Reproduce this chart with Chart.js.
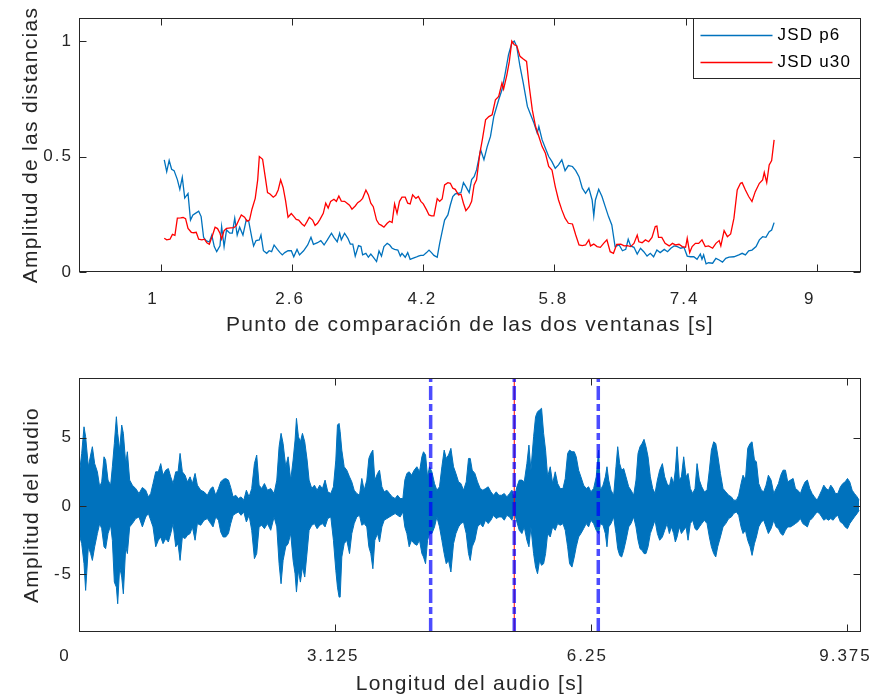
<!DOCTYPE html>
<html><head><meta charset="utf-8">
<script src="https://cdn.jsdelivr.net/npm/chart.js@4.4.1/dist/chart.umd.min.js"></script>
<style>
html,body{margin:0;padding:0;background:#fff;}
#wrap{position:relative;width:875px;height:700px;background:#fff;}
canvas{position:absolute;left:0;}
#c1{top:0;}
#c2{top:350px;}
</style></head><body>
<div id="wrap"><canvas id="c1" width="875" height="350"></canvas><canvas id="c2" width="875" height="350"></canvas></div>
<script>
// ---------- Top chart data ----------
const seriesNames = ['JSD p6', 'JSD u30'];
const blueT = [1.04,1.07,1.10,1.13,1.16,1.20,1.23,1.26,1.29,1.33,1.36,1.39,1.42,1.46,1.49,1.52,1.55,1.59,1.62,1.65,1.68,1.72,1.74,1.77,1.80,1.84,1.87,1.90,1.93,1.96,2.00,2.04,2.07,2.11,2.13,2.16,2.20,2.22,2.25,2.29,2.32,2.35,2.38,2.42,2.45,2.48,2.51,2.55,2.59,2.62,2.66,2.69,2.74,2.79,2.83,2.86,2.91,2.95,2.99,3.03,3.08,3.11,3.15,3.18,3.20,3.24,3.28,3.31,3.34,3.37,3.41,3.44,3.46,3.50,3.53,3.56,3.59,3.63,3.66,3.69,3.72,3.76,3.79,3.82,3.85,3.89,3.92,3.94,3.98,4.01,4.04,4.07,4.11,4.14,4.17,4.20,4.24,4.27,4.30,4.33,4.37,4.40,4.43,4.46,4.50,4.53,4.56,4.59,4.63,4.66,4.69,4.72,4.76,4.79,4.82,4.85,
4.90,4.94,4.98,5.02,5.06,5.12,5.16,5.20,5.24,5.28,5.31,5.34,5.38,5.42,5.47,5.51,5.55,5.59,5.61,5.65,5.69,5.73,5.77,5.81,5.85,5.89,5.93,5.97,6.02,6.06,6.10,6.14,6.18,6.22,6.26,6.28,6.30,6.34,6.38,6.42,6.46,6.50,6.54,6.59,6.63,6.67,6.70,6.73,6.77,6.81,6.85,6.89,6.93,6.97,7.01,7.05,7.09,7.14,7.18,7.22,7.26,7.30,7.34,7.38,7.42,7.46,7.50,7.54,7.58,7.60,7.62,7.65,7.68,7.73,7.77,7.81,7.85,7.89,7.93,7.99,8.05,8.09,8.13,8.17,8.21,8.26,8.30,8.34,8.38,8.42,8.45,8.48];
const blueV = [.486,.435,.483,.445,.439,.40,.358,.41,.32,.34,.225,.247,.254,.263,.24,.15,.136,.13,.16,.11,.088,.113,.197,.11,.182,.168,.168,.233,.16,.194,.16,.225,.22,.146,.113,.136,.139,.16,.092,.081,.092,.088,.117,.098,.085,.074,.084,.092,.092,.066,.098,.074,.092,.117,.15,.12,.127,.136,.117,.139,.168,.15,.131,.168,.139,.168,.146,.121,.121,.069,.114,.11,.074,.081,.064,.078,.064,.045,.091,.069,.11,.124,.117,.103,.098,.095,.069,.081,.064,.084,.055,.059,.064,.069,.072,.072,.084,.095,.084,.072,.064,.124,.175,.225,.247,.29,.327,.338,.341,.344,.387,.37,.344,.40,.413,.442,
.529,.486,.543,.587,.673,.746,.789,.861,.941,.991,1.0,.977,.890,.818,.717,.681,.645,.601,.630,.572,.536,.500,.478,.449,.464,.486,.439,.461,.457,.439,.413,.363,.341,.363,.312,.243,.312,.358,.327,.283,.240,.204,.110,.117,.092,.098,.142,.113,.107,.078,.103,.088,.069,.081,.066,.095,.084,.098,.088,.103,.113,.110,.103,.107,.069,.066,.066,.055,.078,.055,.074,.035,.040,.038,.059,.052,.043,.059,.064,.066,.074,.081,.074,.092,.095,.110,.139,.153,.150,.175,.182,.214];
const redT = [1.04,1.07,1.11,1.14,1.17,1.20,1.24,1.27,1.30,1.33,1.37,1.40,1.43,1.46,1.50,1.53,1.56,1.59,1.63,1.66,1.69,1.72,1.74,1.77,1.80,1.85,1.89,1.92,1.95,1.98,2.02,2.05,2.08,2.11,2.15,2.18,2.20,2.24,2.27,2.30,2.33,2.37,2.40,2.43,2.46,2.49,2.52,2.55,2.59,2.62,2.65,2.68,2.72,2.75,2.78,2.81,2.85,2.88,2.91,2.94,2.98,3.01,3.04,3.07,3.11,3.14,3.17,3.20,3.24,3.27,3.30,3.33,3.37,3.40,3.43,3.46,3.50,3.53,3.56,3.59,3.63,3.66,3.69,3.72,3.76,3.79,3.82,3.85,3.88,3.91,3.94,3.98,4.01,4.04,4.07,4.11,4.14,4.17,4.20,4.24,4.27,4.30,4.33,4.37,4.40,4.43,4.46,4.50,4.53,4.56,4.59,4.63,4.66,4.69,4.72,4.76,4.79,4.82,4.85,4.89,
4.92,4.96,5.00,5.04,5.08,5.12,5.16,5.18,5.22,5.25,5.28,5.31,5.34,5.38,5.42,5.46,5.49,5.53,5.57,5.61,5.65,5.69,5.73,5.77,5.81,5.85,5.89,5.93,5.97,6.02,6.06,6.10,6.14,6.18,6.22,6.24,6.28,6.32,6.36,6.40,6.44,6.48,6.52,6.56,6.61,6.65,6.69,6.73,6.77,6.81,6.83,6.87,6.91,6.95,6.99,7.03,7.05,7.07,7.11,7.15,7.20,7.24,7.28,7.32,7.36,7.40,7.42,7.45,7.48,7.52,7.56,7.60,7.64,7.68,7.73,7.77,7.81,7.83,7.87,7.91,7.95,7.99,8.03,8.07,8.09,8.13,8.17,8.21,8.25,8.30,8.34,8.36,8.39,8.42,8.45,8.48];
const redV = [.146,.139,.142,.163,.159,.233,.234,.236,.231,.189,.172,.17,.172,.142,.139,.142,.127,.12,.16,.194,.188,.168,.142,.179,.189,.191,.192,.202,.225,.247,.237,.22,.225,.272,.319,.399,.50,.488,.416,.344,.338,.324,.332,.355,.399,.366,.309,.237,.253,.241,.228,.225,.208,.199,.217,.237,.225,.202,.211,.228,.254,.298,.277,.306,.315,.306,.329,.307,.306,.298,.289,.272,.286,.30,.307,.319,.355,.334,.298,.283,.225,.208,.202,.194,.211,.22,.214,.295,.254,.306,.324,.324,.298,.295,.334,.319,.327,.306,.295,.269,.247,.243,.243,.318,.306,.316,.377,.387,.384,.363,.358,.334,.337,.298,.266,.283,.306,.377,.399,.514,
.572,.659,.673,.681,.746,.760,.818,.792,.854,.912,1.0,.984,.980,.934,.922,.912,.811,.702,.630,.587,.543,.514,.457,.442,.370,.312,.269,.233,.211,.208,.160,.117,.114,.117,.139,.113,.121,.110,.107,.124,.139,.088,.081,.120,.121,.113,.114,.110,.124,.160,.131,.127,.139,.131,.150,.197,.199,.150,.150,.124,.113,.124,.117,.120,.110,.107,.146,.084,.110,.124,.124,.139,.110,.113,.103,.124,.136,.113,.179,.153,.165,.233,.355,.384,.387,.355,.327,.305,.348,.384,.399,.431,.387,.464,.483,.572];
const topXRange = [0, 9.54];
const topYRange = [0, 1.1];
const topXTicks = [1, 2.6, 4.2, 5.8, 7.4, 9];
const topYTicks = [0, 0.5, 1];

// ---------- Bottom chart data ----------
const audioT = [0.000,0.033,0.061,0.081,0.114,0.142,0.163,0.191,0.224,0.252,0.277,0.305,0.325,0.354,0.386,0.407,0.431,0.456,0.472,0.496,0.521,0.541,0.570,0.590,0.618,0.651,0.692,0.732,0.773,0.814,0.846,0.875,0.903,0.936,0.968,0.997,1.025,1.058,1.090,1.119,1.147,1.180,1.208,1.233,1.261,1.294,1.322,1.355,1.383,1.416,1.444,1.485,1.526,1.566,1.607,1.635,1.668,1.701,1.729,1.758,1.790,1.823,1.851,1.880,1.912,1.945,1.977,2.010,2.042,2.075,2.107,2.140,2.168,2.197,2.229,2.262,2.299,2.339,2.380,2.413,2.441,2.465,2.490,2.522,2.551,2.583,2.612,2.636,2.653,2.677,2.701,2.726,2.754,2.783,2.807,2.840,2.872,2.905,2.937,2.970,3.002,3.035,3.072,3.104,3.133,3.153,3.173,
3.186,3.206,3.235,3.267,3.300,3.328,3.357,3.389,3.422,3.450,3.479,3.511,3.536,3.560,3.585,3.609,3.642,3.666,3.695,3.723,3.756,3.788,3.821,3.857,3.886,3.918,3.951,3.975,4.000,4.028,4.057,4.089,4.122,4.154,4.183,4.203,4.228,4.252,4.276,4.305,4.337,4.366,4.398,4.427,4.455,4.480,4.508,4.537,4.569,4.598,4.630,4.659,4.691,4.724,4.752,4.773,4.797,4.830,4.862,4.895,4.927,4.960,4.992,5.025,5.057,5.090,5.123,5.155,5.188,5.220,5.253,5.281,5.310,5.342,5.371,5.403,5.432,5.464,5.489,5.513,5.546,5.570,5.594,5.619,5.643,5.668,5.692,5.717,5.749,5.778,5.810,5.839,5.871,5.904,5.932,5.961,5.985,6.014,6.042,6.066,6.095,6.123,6.156,6.188,6.217,6.245,6.278,6.310,6.339,
6.360,6.393,6.421,6.441,6.462,6.490,6.523,6.551,6.572,6.596,6.620,6.645,6.673,6.706,6.734,6.767,6.795,6.820,6.844,6.869,6.893,6.917,6.942,6.970,6.999,7.027,7.056,7.084,7.117,7.145,7.174,7.202,7.227,7.255,7.275,7.296,7.324,7.349,7.377,7.406,7.430,7.458,7.487,7.515,7.540,7.568,7.597,7.629,7.662,7.690,7.715,7.743,7.768,7.792,7.825,7.857,7.890,7.926,7.959,7.987,8.020,8.048,8.077,8.101,8.130,8.158,8.187,8.211,8.240,8.264,8.292,8.325,8.353,8.382,8.410,8.443,8.476,8.504,8.533,8.561,8.589,8.618,8.646,8.679,8.712,8.740,8.768,8.801,8.830,8.858,8.886,8.915,8.943,8.972,9.004,9.033,9.061,9.086,9.114,9.143,9.171,9.200,9.228,9.257,9.289,9.318,9.346,9.375,9.403,9.432,9.460,9.493,9.517];
const audioUp = [2.13,3.85,5.8,5.07,2.87,3.73,4.34,3.1,2.5,1.4,1.76,3.6,3.36,1.89,1.52,2.87,4.58,6.54,5.32,4.09,5.93,5.32,3.1,3.97,1.89,1.52,1.27,0.91,1.35,1.15,0.66,0.91,1.64,2.5,2.5,3.1,2.25,2.62,2.74,2.13,1.64,2.5,2.5,3.85,2.5,2.25,1.76,2.13,1.64,2.38,1.52,1.15,1.03,0.78,1.27,1.4,0.78,1.27,1.76,1.94,2.01,1.89,1.35,0.66,0.78,0.54,0.66,0.42,1.15,0.66,1.27,3.1,3.73,1.52,1.27,1.64,1.15,1.27,0.91,1.89,4.34,5.32,4.58,2.87,3.6,1.89,3.36,4.83,6.42,5.07,4.7,5.32,4.7,3.36,1.89,1.27,1.52,1.15,1.52,1.27,1.89,1.03,0.91,1.4,3.36,5.93,6.05,
5.44,4.09,2.87,2.62,2.13,1.76,1.15,0.91,0.78,2.01,1.15,1.89,3.48,3.85,4.09,1.89,2.38,2.62,1.4,1.03,1.15,0.91,0.66,0.54,0.78,0.54,0.54,1.89,2.38,2.5,2.25,2.62,2.87,2.5,3.6,3.97,3.73,2.13,2.87,2.5,1.64,1.15,1.4,2.87,4.09,3.48,3.73,4.22,2.87,2.38,1.76,1.64,1.15,1.76,3.48,3.48,2.62,2.38,1.76,1.27,1.15,1.27,1.4,1.03,0.78,1.03,0.78,0.78,0.91,0.66,0.91,1.15,0.54,1.4,1.89,1.89,1.76,3.1,4.46,2.62,5.07,6.54,6.91,7.03,7.16,5.32,4.09,2.13,2.87,1.64,2.5,1.64,1.27,1.27,2.01,3.85,4.09,3.97,3.97,3.6,2.62,2.13,1.52,1.27,1.4,1.03,1.27,2.13,4.09,
1.15,1.52,2.13,2.87,1.89,1.15,0.78,2.87,4.34,3.1,2.62,2.74,2.13,1.4,1.15,0.78,1.89,3.85,4.34,4.58,4.88,4.34,3.6,2.13,1.27,0.91,1.89,2.62,3.1,2.13,1.64,1.4,2.13,1.64,2.62,4.34,1.89,2.13,3.6,2.13,2.38,1.27,0.91,1.27,3.1,1.89,1.4,1.03,1.15,2.62,4.09,4.7,4.58,3.73,2.38,1.27,1.03,0.78,0.66,0.42,0.42,0.78,1.64,2.25,1.89,4.22,4.58,4.7,3.36,3.24,1.64,1.15,1.03,1.52,2.25,1.89,0.91,1.27,1.64,2.25,2.62,2.62,1.76,1.89,2.01,1.27,1.15,0.91,1.4,1.76,1.89,1.27,0.91,0.66,0.42,0.78,1.15,1.52,1.27,1.15,1.52,1.27,0.91,0.91,1.4,1.64,1.76,2.01,1.76,1.15,0.91,0.66,0.42];
const audioLo = [-2.03,-2.77,-4.24,-6.2,-3.0,-3.5,-4.0,-3.0,-2.03,-1.3,-1.67,-3.0,-3.14,-2.03,-1.42,-2.52,-5.59,-5.96,-7.18,-4.49,-5.22,-6.45,-3.0,-3.5,-1.54,-1.3,-0.93,-0.81,-1.54,-0.81,-0.56,-1.05,-1.54,-3.0,-2.52,-2.28,-2.77,-2.4,-2.65,-2.03,-1.3,-3.0,-2.77,-4.0,-2.28,-2.4,-2.16,-2.03,-1.54,-2.52,-1.3,-1.42,-1.05,-0.93,-1.3,-1.54,-0.81,-1.05,-1.91,-2.28,-2.28,-2.03,-1.3,-0.69,-0.56,-0.44,-0.69,-0.44,-1.18,-0.69,-1.79,-3.87,-3.5,-1.54,-1.42,-1.67,-1.3,-1.79,-0.81,-1.54,-4.24,-5.71,-4.0,-3.0,-2.77,-2.03,-4.0,-4.98,-6.32,-4.73,-5.59,-4.49,-5.22,-3.38,-1.79,-1.42,-1.3,-1.67,-1.42,-1.3,-1.54,-0.93,-0.81,-2.52,-4.73,-5.96,-6.69,
-6.69,-3.75,-2.77,-2.52,-3.5,-2.03,-1.3,-0.81,-0.69,-1.42,-1.3,-1.54,-3.0,-3.5,-4.61,-2.52,-2.03,-2.65,-1.54,-1.05,-0.93,-0.81,-0.69,-0.56,-0.69,-0.81,-0.44,-1.54,-2.03,-3.0,-2.52,-2.77,-2.89,-2.52,-3.5,-3.75,-4.24,-2.52,-2.03,-2.03,-1.54,-0.81,-1.54,-2.52,-3.5,-4.24,-4.0,-4.85,-2.77,-2.03,-1.54,-1.3,-1.18,-2.03,-3.5,-4.0,-3.0,-2.52,-1.54,-1.3,-1.54,-1.05,-1.3,-1.05,-0.69,-0.93,-0.81,-0.81,-1.05,-0.69,-0.81,-1.05,-0.44,-1.18,-1.79,-2.03,-1.54,-2.52,-3.0,-1.54,-3.5,-4.49,-4.98,-4.0,-4.36,-4.24,-3.5,-2.03,-2.28,-1.54,-1.79,-1.3,-1.42,-1.3,-1.79,-3.0,-4.24,-4.49,-3.75,-3.0,-2.28,-2.03,-1.67,-1.3,-1.54,-1.05,-1.3,-1.79,-2.03,
-1.3,-1.42,-2.03,-3.0,-1.54,-1.3,-0.81,-2.03,-3.14,-3.63,-3.75,-3.26,-2.52,-1.54,-1.3,-0.81,-1.54,-2.52,-3.14,-3.26,-3.5,-3.5,-3.0,-2.03,-1.54,-1.05,-2.03,-2.52,-2.28,-1.79,-1.3,-2.03,-1.54,-2.03,-2.65,-2.28,-1.54,-2.03,-1.79,-1.54,-2.52,-1.3,-1.05,-1.67,-1.79,-1.54,-1.3,-1.05,-1.3,-2.28,-3.0,-3.5,-3.75,-3.0,-2.28,-1.54,-1.3,-0.93,-0.81,-0.56,-0.44,-0.69,-1.54,-2.03,-1.79,-2.52,-3.0,-3.63,-2.77,-2.28,-1.54,-1.18,-1.05,-1.54,-2.03,-1.67,-1.05,-1.54,-1.67,-2.03,-2.16,-1.79,-1.54,-1.54,-1.42,-1.3,-1.18,-0.93,-1.3,-1.42,-1.54,-1.05,-0.93,-0.69,-0.44,-0.56,-0.81,-1.05,-0.93,-1.05,-0.93,-1.05,-0.81,-0.69,-1.18,-1.3,-1.54,-1.67,-1.3,-1.05,-0.81,-0.56,-0.32];
const markerT = [4.29, 5.31, 6.335];
const peakT = [5.31];
const botXRange = [0, 9.54];
const botYRange = [-9.25, 9.38];
const botXTicks = [0, 3.125, 6.25, 9.375];
const botYTicks = [-5, 0, 5];

// ---------- styling ----------
const FONT = "'Liberation Sans', Arial, Helvetica, sans-serif";
const AXC = '#262626';
const TICK_SP = 2, TITLE_SP = 1.3, LEG_SP = 1.2;
const topXLabelShift = [-8, -2, -1, -1, -1, -7];
const botXLabelShift = [-14, -2, -4, -2];

const boxPlugin = {
  id: 'mbox',
  afterDatasetsDraw(chart, args, opts) {
    const {ctx, chartArea: a, scales: {x, y}} = chart;
    ctx.save();
    ctx.strokeStyle = AXC; ctx.lineWidth = 1;
    const L = Math.round(a.left) + 0.5, R = Math.round(a.right) - 0.5;
    const T = Math.round(a.top) + 0.5, B = Math.round(a.bottom) - 0.5;
    ctx.strokeRect(L, T, R - L, B - T);
    const tl = opts.tickLen || 7;
    ctx.beginPath();
    x.ticks.forEach(t => {
      const px = Math.round(x.getPixelForValue(t.value)) + 0.5;
      ctx.moveTo(px, B); ctx.lineTo(px, B - tl);
      ctx.moveTo(px, T); ctx.lineTo(px, T + tl);
    });
    y.ticks.forEach(t => {
      const py = Math.round(y.getPixelForValue(t.value)) + 0.5;
      ctx.moveTo(L, py); ctx.lineTo(L + tl, py);
      ctx.moveTo(R, py); ctx.lineTo(R - tl, py);
    });
    ctx.stroke();
    ctx.restore();
  }
};

const legendPlugin = {
  id: 'mlegend',
  afterDatasetsDraw(chart) {
    const {ctx, chartArea: a} = chart;
    const x0 = Math.round(a.right) - 167.5, y0 = Math.round(a.top) + 0.5, w = 167, h = 60;
    ctx.save();
    ctx.fillStyle = '#fff'; ctx.fillRect(x0, y0, w, h);
    ctx.strokeStyle = AXC; ctx.lineWidth = 1; ctx.strokeRect(x0, y0, w, h);
    ctx.font = '17px ' + FONT; ctx.textBaseline = 'middle'; ctx.textAlign = 'left';
    ctx.letterSpacing = LEG_SP + 'px';
    chart.data.datasets.forEach((ds, i) => {
      const yy = y0 + 17 + i * 27;
      ctx.strokeStyle = ds.borderColor; ctx.lineWidth = 1.3;
      ctx.beginPath(); ctx.moveTo(x0 + 7, yy); ctx.lineTo(x0 + 79, yy); ctx.stroke();
      ctx.fillStyle = '#000';
      ctx.fillText(ds.label, x0 + 84, yy);
    });
    ctx.letterSpacing = '0px';
    ctx.restore();
  }
};

function fixedTicks(arr) { return s => { s.ticks = arr.map(v => ({value: v})); }; }
function spaced(s, shifts) {
  if (s._spaced) return;
  s._spaced = true;
  const dl = s.drawLabels, dt = s.drawTitle, cli = s._computeLabelItems;
  s.drawLabels = function (a) { this.ctx.letterSpacing = TICK_SP + 'px'; dl.call(this, a); this.ctx.letterSpacing = '0px'; };
  s.drawTitle = function (a) { this.ctx.letterSpacing = TITLE_SP + 'px'; dt.call(this, a); this.ctx.letterSpacing = '0px'; };
  if (shifts) {
    s._computeLabelItems = function (a) {
      const items = cli.call(this, a);
      items.forEach((it, i) => { if (shifts[i]) it.options.translation[0] += shifts[i]; });
      return items;
    };
  }
}
function fitX(h, shifts) { return s => { s.height = h; s.paddingLeft = 0; s.paddingRight = 0; spaced(s, shifts); }; }
function fitY(w) { return s => { s.width = w; s.paddingTop = 0; s.paddingBottom = 0; spaced(s, null); }; }
const tickFont = {family: FONT, size: 17};
const titleFont = {family: FONT, size: 21};

new Chart(document.getElementById('c1'), {
  type: 'line',
  data: {datasets: [
    {label: seriesNames[0], data: blueT.map((t, i) => ({x: t, y: blueV[i]})), borderColor: '#0072BD', borderWidth: 1.3, pointRadius: 0, fill: false, tension: 0, order: 2},
    {label: seriesNames[1], data: redT.map((t, i) => ({x: t, y: redV[i]})), borderColor: '#FF0000', borderWidth: 1.3, pointRadius: 0, fill: false, tension: 0, order: 1}
  ]},
  options: {
    responsive: false, animation: false, devicePixelRatio: 1,
    layout: {padding: {left: 0, right: 14, top: 18, bottom: 0}},
    plugins: {legend: {display: false}, tooltip: {enabled: false}, mbox: {tickLen: 7}},
    scales: {
      x: {type: 'linear', min: topXRange[0], max: topXRange[1], afterBuildTicks: fixedTicks(topXTicks),
        ticks: {callback: v => String(v), font: tickFont, color: AXC, padding: 17, maxRotation: 0, autoSkip: false},
        grid: {display: false, drawTicks: false}, border: {display: false},
        title: {display: true, text: 'Punto de comparación de las dos ventanas [s]', font: titleFont, color: AXC, padding: {top: 0, bottom: 12}},
        afterFit: fitX(78, topXLabelShift)},
      y: {type: 'linear', min: topYRange[0], max: topYRange[1], afterBuildTicks: fixedTicks(topYTicks),
        ticks: {callback: v => String(v), font: tickFont, color: AXC, padding: 6},
        grid: {display: false, drawTicks: false}, border: {display: false},
        title: {display: true, text: 'Amplitud de las distancias', font: titleFont, color: AXC, padding: {top: 19, bottom: 0}},
        afterFit: fitY(79)}
    }
  },
  plugins: [boxPlugin, legendPlugin]
});

const audioDatasets = [
  {label: 'audio+', data: audioT.map((t, i) => ({x: t, y: audioUp[i]})), borderColor: '#0072BD', borderWidth: 1, pointRadius: 0, fill: false, tension: 0, order: 3},
  {label: 'audio-', data: audioT.map((t, i) => ({x: t, y: audioLo[i]})), borderColor: '#0072BD', backgroundColor: '#0072BD', borderWidth: 1, pointRadius: 0, fill: '-1', tension: 0, order: 3}
];
peakT.forEach(t => audioDatasets.push({label: 'peak', data: [{x: t, y: botYRange[0]}, {x: t, y: botYRange[1]}], borderColor: '#FF0000', borderWidth: 1, pointRadius: 0, fill: false, order: 2}));
markerT.forEach(t => audioDatasets.push({label: 'marker', data: [{x: t, y: botYRange[0]}, {x: t, y: botYRange[1]}], borderColor: 'rgba(0,0,255,0.7)', borderWidth: 3.5, borderDash: [14, 4, 7, 4], pointRadius: 0, fill: false, order: 1}));

new Chart(document.getElementById('c2'), {
  type: 'line',
  data: {datasets: audioDatasets},
  options: {
    responsive: false, animation: false, devicePixelRatio: 1,
    layout: {padding: {left: 0, right: 14, top: 28, bottom: 0}},
    plugins: {legend: {display: false}, tooltip: {enabled: false}, mbox: {tickLen: 7}},
    scales: {
      x: {type: 'linear', min: botXRange[0], max: botXRange[1], afterBuildTicks: fixedTicks(botXTicks),
        ticks: {callback: v => String(v), font: tickFont, color: AXC, padding: 14, maxRotation: 0, autoSkip: false},
        grid: {display: false, drawTicks: false}, border: {display: false},
        title: {display: true, text: 'Longitud del audio [s]', font: titleFont, color: AXC, padding: {top: 0, bottom: 3}},
        afterFit: fitX(68, botXLabelShift)},
      y: {type: 'linear', min: botYRange[0], max: botYRange[1], afterBuildTicks: fixedTicks(botYTicks),
        ticks: {callback: v => String(v), font: tickFont, color: AXC, padding: 6},
        grid: {display: false, drawTicks: false}, border: {display: false},
        title: {display: true, text: 'Amplitud del audio', font: titleFont, color: AXC, padding: {top: 20, bottom: 0}},
        afterFit: fitY(79)}
    }
  },
  plugins: [boxPlugin]
});
</script>
</body></html>
